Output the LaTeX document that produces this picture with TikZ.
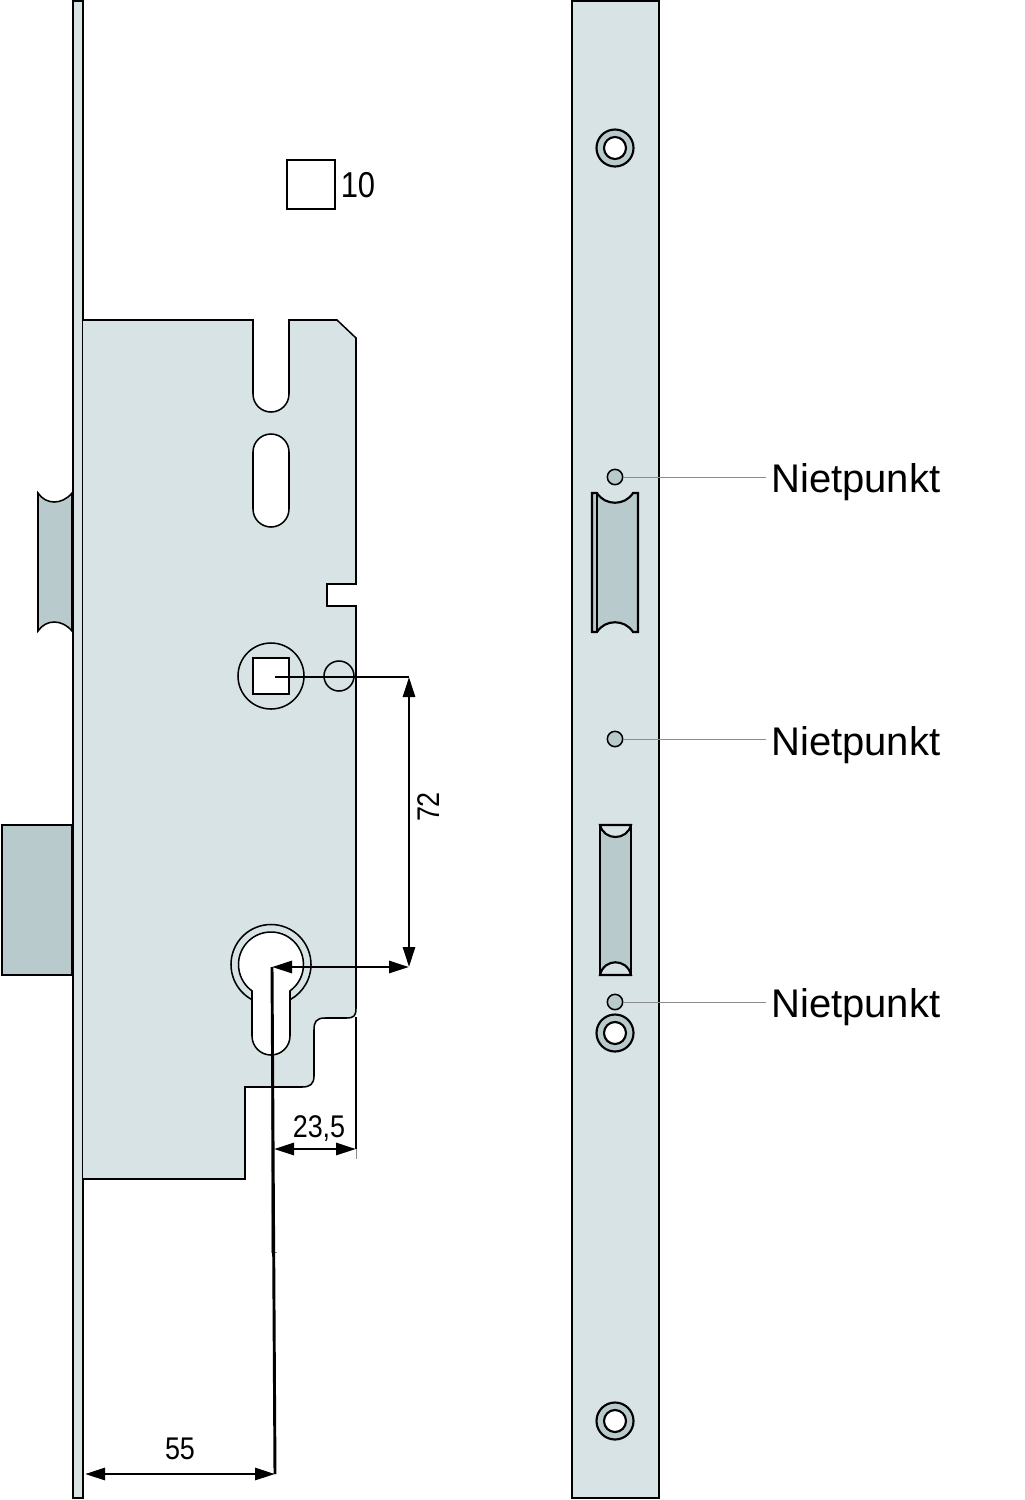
\documentclass[tikz,border=0pt]{standalone}
\usepackage{fontspec}
\usetikzlibrary{arrows.meta}
\setmainfont{Liberation Sans}
\newfontfamily\dimfont[FakeStretch=0.86]{Liberation Sans}
\definecolor{plate}{HTML}{D7E3E4}
\definecolor{steel}{HTML}{B9CACC}
\tikzset{
  x=0.75pt,y=-0.75pt,
  outline/.style={draw=black,line width=1.15pt,line join=miter},
  strong/.style={draw=black,line width=1.6pt,line join=miter},
  plated/.style={outline,fill=plate},
  steeled/.style={outline,fill=steel},
  hole/.style={outline,fill=white},
  leader/.style={draw=black!45,line width=0.6pt},
  dimline/.style={draw=black,line width=2.2pt},
  dimarrows/.style={dimline,{Triangle[length=15pt,width=9pt]}-{Triangle[length=15pt,width=9pt]}},
  dimtext/.style={inner sep=0pt,font=\dimfont\fontsize{23.5}{24}\selectfont},
  bigdimtext/.style={inner sep=0pt,font=\dimfont\fontsize{27}{27}\selectfont},
  calltext/.style={inner sep=0pt,anchor=west,font=\fontsize{30}{30}\selectfont},
  rivet/.style={outline,fill=steel,circle,minimum size=11.5pt,inner sep=0pt},
}
\newcommand{\mountinghole}[1]{%
  \draw[strong,fill=steel] (#1) circle[radius=18.5];
  \draw[strong,fill=white] (#1) circle[radius=11];
}
\begin{document}
\begin{tikzpicture}
\useasboundingbox (0,0) rectangle (1025,1500);
% --- left view ---
\draw[outline,fill=steel] (2,825) rectangle (72,975);
\draw[steeled] (38,493) .. controls (46,505) and (62,505) .. (72,493) -- (72,631)
  .. controls (62,619) and (46,619) .. (38,631) -- cycle;
\draw[plated] (73,1) rectangle (83,1498);
% lock body
\draw[plated] (83,320) -- (253,320) -- (253,394) arc[start angle=180,end angle=0,radius=18]
  -- (289,320) -- (337,320) -- (356,338) -- (356,584) -- (327,584) -- (327,606) -- (356,606)
  -- (356,1008) .. controls (356,1016) and (354,1018) .. (346,1018) -- (325,1018)
  .. controls (316,1018) and (314,1022) .. (314,1030) -- (314,1076)
  .. controls (314,1084) and (310,1087) .. (302,1087) -- (245,1087) -- (245,1179) -- (83,1179);
\draw[hole] (253,452) arc[start angle=180,end angle=360,radius=18] -- (289,509)
  arc[start angle=0,end angle=180,radius=18] -- cycle;
% spindle
\draw[outline] (271,676) circle[radius=33];
\draw[hole] (253,658) rectangle (289,694);
\draw[outline] (339,676) circle[radius=15];
% cylinder hole
\draw[outline] (271,964.5) ++(118.4:40) arc[start angle=118.4,end angle=421.6,radius=40];
\draw[hole] (271,964.5) ++(125.8:32.5) arc[start angle=125.8,end angle=414.2,radius=32.5]
  -- (290,1036) arc[start angle=0,end angle=180,radius=19] -- cycle;
% square symbol
\draw[draw=black,line width=0.9pt] (287,160) rectangle (335,209);
\node[bigdimtext] (sq) at (358,185) {10};
% dimensions
\coordinate (spA) at (275,677);
\coordinate (spB) at (409,677);
\coordinate (cyB) at (409,967);
\coordinate (cyA) at (272,967);
\coordinate (cyBot) at (275,1474);
\coordinate (pl) at (85,1474);
\coordinate (e1) at (356,1017);
\coordinate (e2) at (356,1149);
\coordinate (e3) at (356,1159);
\coordinate (g1) at (271,1040);
\coordinate (g2) at (271,1252);
\coordinate (g3) at (277,1252);
\coordinate (w1) at (274,1149);
\draw[leader] (g1) -- (g2) -- (g3);
\draw[leader] (e2) -- (e3);
\draw[dimline] (spA) -- (spB);
\draw[dimarrows] (spB) -- (cyB);
\draw[dimarrows] (cyA) -- (cyB);
\draw[dimline] (cyA) -- (cyBot);
\draw[dimline] (e1) -- (e2);
\draw[dimarrows] (w1) -- (e2);
\draw[dimarrows] (pl) -- (cyBot);
\node[dimtext,rotate=90] (d72) at (429,807) {72};
\node[dimtext] (d235) at (319,1129) {23,5};
\node[dimtext] (d55) at (180,1449) {55};
% --- right view ---
\draw[plated] (572,1) rectangle (659,1498);
\mountinghole{615,148}
\mountinghole{615,1033}
\mountinghole{615,1421}
% upper strike
\draw[strong,fill=steel] (592,493) -- (597,493) .. controls (605,506) and (625,506) .. (633,493)
  -- (638,493) -- (638,632) -- (633,632) .. controls (625,619) and (605,619) .. (597,632)
  -- (592,632) -- cycle;
\draw[strong] (597,493) -- (597,632);
% lower strike
\draw[strong,fill=steel] (600,825) rectangle (631,975);
\draw[strong,fill=plate] (600,825) .. controls (604,841) and (627,841) .. (631,825) -- cycle;
\draw[strong,fill=plate] (600,975) .. controls (604,958) and (627,958) .. (631,975) -- cycle;
% rivets and callouts
\node[rivet] (r1) at (615,477) {};
\node[rivet] (r2) at (615,739) {};
\node[rivet] (r3) at (615,1002) {};
\node[calltext] (n1) at (771,482) {Nietpunkt};
\node[calltext] (n2) at (771,745) {Nietpunkt};
\node[calltext] (n3) at (771,1007) {Nietpunkt};
\coordinate (c1) at (766,477);
\coordinate (c2) at (766,739);
\coordinate (c3) at (766,1002);
\draw[leader] (r1) -- (c1);
\draw[leader] (r2) -- (c2);
\draw[leader] (r3) -- (c3);
\end{tikzpicture}
\end{document}
